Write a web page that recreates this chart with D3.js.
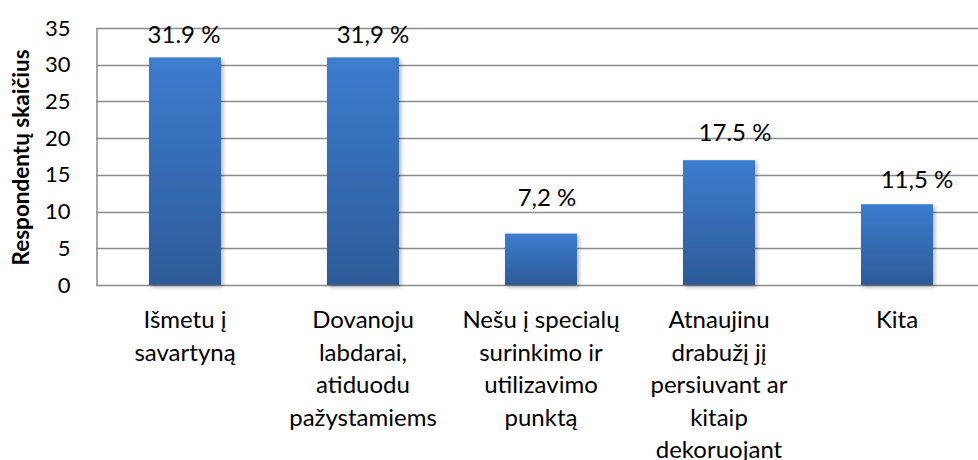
<!DOCTYPE html>
<html>
<head>
<meta charset="utf-8">
<script src="https://cdn.jsdelivr.net/npm/d3@7"></script>
<style>
  html, body { margin: 0; padding: 0; background: #fff; }
  svg { display: block; font-family: Lato, "Open Sans", sans-serif; }
</style>
</head>
<body>
<svg id="chart" width="978" height="460"></svg>
<script>
// Category labels (each inner array is one wrapped line)
const categories = [
  ["Išmetu į", "savartyną"],
  ["Dovanoju", "labdarai,", "atiduodu", "pažystamiems"],
  ["Nešu į specialų", "surinkimo ir", "utilizavimo", "punktą"],
  ["Atnaujinu", "drabužį jį", "persiuvant ar", "kitaip", "dekoruojant"],
  ["Kita"]
];
// Number of respondents per answer
const counts = [31, 31, 7, 17, 11];
// Share labels shown above the bars
const shareLabels = ["31.9 %", "31,9 %", "7,2 %", "17.5 %", "11,5 %"];
const yTicks = [0, 5, 10, 15, 20, 25, 30, 35];
const yTitle = "Respondentų skaičius";

// Hand-placed offsets of the share labels (px from bar centre / bar top)
const labelDx = [-1, 10, 6, 16, 20];
const labelDy = [-14, -14, -28, -19, -16];

const svg = d3.select("#chart");
const plot = { left: 96, right: 986, top: 28, bottom: 285 };

const keys = categories.map((c, i) => "c" + i);
const x = d3.scaleBand()
  .domain(keys)
  .range([plot.left, plot.right])
  .paddingInner(0.5955)
  .paddingOuter(0.5955 / 2);

const y = d3.scaleLinear().domain([0, 35]).range([plot.bottom, plot.top]);

// Bar fill gradient and soft shadow
const defs = svg.append("defs");
const grad = defs.append("linearGradient")
  .attr("id", "barGrad").attr("x1", 0).attr("y1", 0).attr("x2", 0).attr("y2", 1);
grad.append("stop").attr("offset", "0%").attr("stop-color", "#3c7ccf");
grad.append("stop").attr("offset", "100%").attr("stop-color", "#2d5b98");

const sh = defs.append("filter").attr("id", "shadow")
  .attr("x", "-20%").attr("y", "-10%").attr("width", "140%").attr("height", "120%");
sh.append("feGaussianBlur").attr("in", "SourceAlpha").attr("stdDeviation", 2);
sh.append("feOffset").attr("dx", 2).attr("dy", 2).attr("result", "off");
sh.append("feComponentTransfer").append("feFuncA").attr("type", "linear").attr("slope", 0.3);
const merge = sh.append("feMerge");
merge.append("feMergeNode");
merge.append("feMergeNode").attr("in", "SourceGraphic");

// Horizontal gridlines
svg.append("g")
  .selectAll("line")
  .data(yTicks)
  .join("line")
  .attr("x1", plot.left).attr("x2", plot.right)
  .attr("y1", d => Math.round(y(d)) + 0.5)
  .attr("y2", d => Math.round(y(d)) + 0.5)
  .attr("stroke", "#8c8c8c")
  .attr("stroke-width", 1.5);

// Y axis
const yAxis = svg.append("g")
  .attr("transform", `translate(${plot.left + 0.5},0)`)
  .call(d3.axisLeft(y).tickValues(yTicks).tickSize(0).tickPadding(26));
yAxis.select(".domain").attr("stroke", "#8c8c8c").attr("stroke-width", 1.5);
yAxis.selectAll("text")
  .attr("font-family", "Lato, sans-serif")
  .attr("font-size", 22)
  .attr("fill", "#000");

// Y axis title
svg.append("text")
  .attr("transform", `translate(29,${(plot.top + plot.bottom) / 2 + 1}) rotate(-90)`)
  .attr("text-anchor", "middle")
  .attr("font-size", 22.5)
  .attr("font-weight", "bold")
  .attr("fill", "#000")
  .text(yTitle);

// Bars
svg.append("g")
  .selectAll("rect")
  .data(counts)
  .join("rect")
  .attr("x", (d, i) => x(keys[i]))
  .attr("width", x.bandwidth())
  .attr("y", d => y(d))
  .attr("height", d => y(0) - y(d))
  .attr("fill", "url(#barGrad)")
  .attr("filter", "url(#shadow)");

// Share labels
svg.append("g")
  .selectAll("text")
  .data(counts)
  .join("text")
  .attr("x", (d, i) => x(keys[i]) + x.bandwidth() / 2 + labelDx[i])
  .attr("y", (d, i) => y(d) + labelDy[i])
  .attr("text-anchor", "middle")
  .attr("font-size", 24)
  .attr("fill", "#000")
  .text((d, i) => shareLabels[i]);

// Category labels
const cat = svg.append("g")
  .selectAll("text")
  .data(categories)
  .join("text")
  .attr("text-anchor", "middle")
  .attr("font-size", 24)
  .attr("fill", "#000");
cat.each(function (lines, i) {
  const cx = x(keys[i]) + x.bandwidth() / 2;
  d3.select(this).selectAll("tspan")
    .data(lines)
    .join("tspan")
    .attr("x", cx)
    .attr("y", (l, j) => 328 + j * 32.5)
    .text(l => l);
});
</script>
</body>
</html>
